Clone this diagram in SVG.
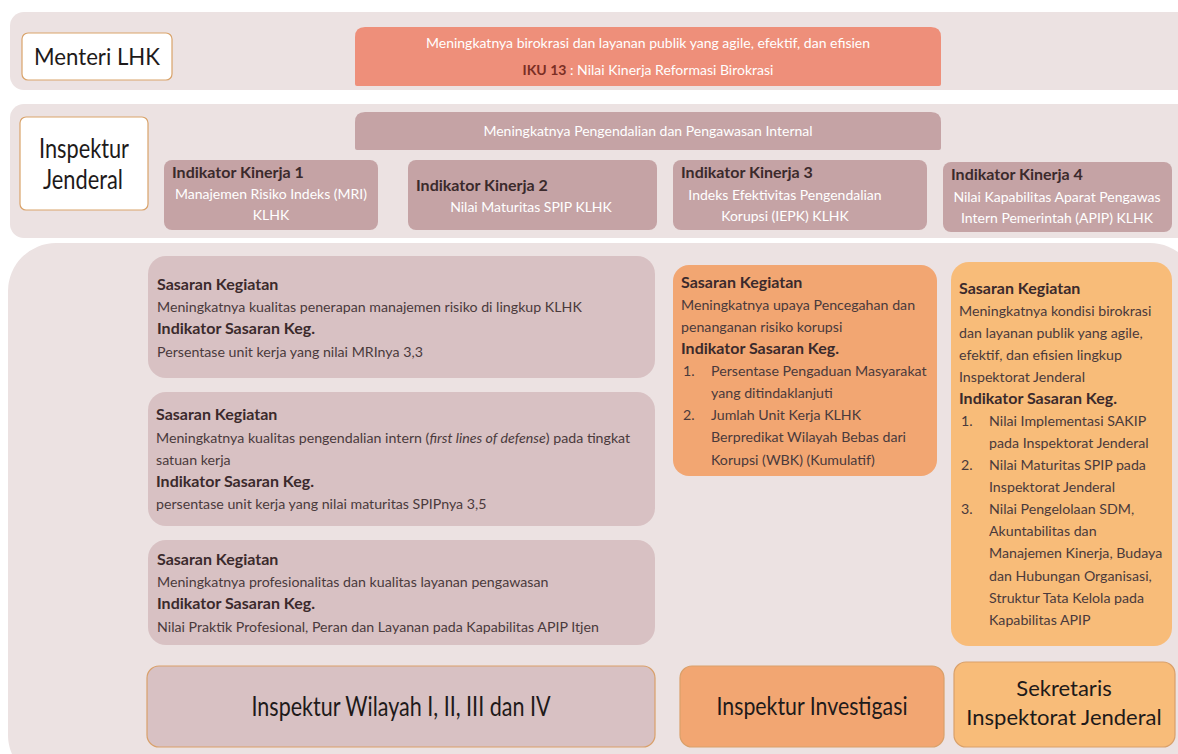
<svg xmlns="http://www.w3.org/2000/svg" width="1178" height="754" viewBox="0 0 1178 754">
<style>
text{font-family:Lato,"Open Sans","Liberation Sans",sans-serif}
.band{fill:#ECE2E2}
.wbox{fill:#FFFFFF;stroke:#D9A36A;stroke-width:1.2}
.mauve{fill:#C5A3A5}
.lmauve{fill:#D8C1C3}
.org{fill:#F2A672}
.lorg{fill:#F8BC79}
.stk{stroke:#D9A06A;stroke-width:1.2}
.wt{fill:#FFFFFF;font-size:14px}
.bt{fill:#3B2A2C;font-size:16px;font-weight:bold}
.dt{fill:#4A3A3C;font-size:14.2px}
.big{fill:#1E1A1A}
</style>
<g id="bands">
<rect class="band" x="10" y="12" width="1190" height="78" rx="14"/>
<rect class="band" x="10" y="104" width="1190" height="134" rx="14"/>
<rect class="band" x="8" y="243" width="1190" height="540" rx="48"/>
</g>
<g id="menteri">
<rect class="wbox" x="22" y="33" width="150" height="47" rx="6"/>
<text class="big" x="97" y="65" font-size="24" text-anchor="middle" textLength="126" lengthAdjust="spacingAndGlyphs">Menteri LHK</text>
</g>
<g id="iku">
<path d="M365,27 H931 Q941,27 941,37 V84 Q941,86 939,86 H357 Q355,86 355,84 V37 Q355,27 365,27 Z" fill="#EE8F7A"/>
<text class="wt" x="648" y="48" text-anchor="middle">Meningkatnya birokrasi dan layanan publik yang agile, efektif, dan efisien</text>
<text class="wt" x="648" y="75" text-anchor="middle"><tspan fill="#7A2E24" font-weight="bold">IKU 13</tspan> : Nilai Kinerja Reformasi Birokrasi</text>
</g>
<g id="irjen">
<rect class="wbox" x="20" y="117" width="128" height="93" rx="6"/>
<text class="big" x="84" y="158" font-size="27" text-anchor="middle" textLength="90" lengthAdjust="spacingAndGlyphs">Inspektur</text>
<text class="big" x="83" y="189" font-size="27" text-anchor="middle" textLength="80" lengthAdjust="spacingAndGlyphs">Jenderal</text>
</g>
<g id="sasaran-irjen">
<path d="M365,112 H931 Q941,112 941,122 V148 Q941,150 939,150 H357 Q355,150 355,148 V122 Q355,112 365,112 Z" class="mauve"/>
<text class="wt" x="648" y="136" text-anchor="middle">Meningkatnya Pengendalian dan Pengawasan Internal</text>
</g>
<g id="ik1">
<rect class="mauve" x="164" y="160" width="214" height="70" rx="8"/>
<text class="bt" x="172" y="178">Indikator Kinerja 1</text>
<text class="wt" x="271" y="199" text-anchor="middle">Manajemen Risiko Indeks (MRI)</text>
<text class="wt" x="271" y="220" text-anchor="middle">KLHK</text>
</g>
<g id="ik2">
<rect class="mauve" x="408" y="160" width="249" height="70" rx="8"/>
<text class="bt" x="416" y="191">Indikator Kinerja 2</text>
<text class="wt" x="531" y="212" text-anchor="middle">Nilai Maturitas SPIP KLHK</text>
</g>
<g id="ik3">
<rect class="mauve" x="673" y="160" width="254" height="70" rx="8"/>
<text class="bt" x="681" y="178">Indikator Kinerja 3</text>
<text class="wt" x="785" y="200" text-anchor="middle">Indeks Efektivitas Pengendalian</text>
<text class="wt" x="785" y="221" text-anchor="middle">Korupsi (IEPK) KLHK</text>
</g>
<g id="ik4">
<rect class="mauve" x="943" y="162" width="229" height="70" rx="8"/>
<text class="bt" x="951" y="180">Indikator Kinerja 4</text>
<text class="wt" x="1057" y="202" text-anchor="middle">Nilai Kapabilitas Aparat Pengawas</text>
<text class="wt" x="1057" y="223" text-anchor="middle">Intern Pemerintah (APIP) KLHK</text>
</g>
<g id="sk1">
<rect class="lmauve" x="148" y="256" width="507" height="122" rx="18"/>
<text class="bt" x="157" y="290">Sasaran Kegiatan</text>
<text class="dt" x="157" y="312">Meningkatnya kualitas penerapan manajemen risiko di lingkup KLHK</text>
<text class="bt" x="157" y="334">Indikator Sasaran Keg.</text>
<text class="dt" x="157" y="357">Persentase unit kerja yang nilai  MRInya 3,3</text>
</g>
<g id="sk2">
<rect class="lmauve" x="148" y="392" width="507" height="134" rx="18"/>
<text class="bt" x="156" y="420">Sasaran Kegiatan</text>
<text class="dt" x="156" y="443">Meningkatnya kualitas pengendalian intern (<tspan font-style="italic">first lines of defense</tspan>)  pada tingkat</text>
<text class="dt" x="156" y="465">satuan kerja</text>
<text class="bt" x="156" y="487">Indikator Sasaran Keg.</text>
<text class="dt" x="156" y="509">persentase unit kerja yang nilai maturitas SPIPnya 3,5</text>
</g>
<g id="sk3">
<rect class="lmauve" x="148" y="540" width="507" height="105" rx="18"/>
<text class="bt" x="157" y="565">Sasaran Kegiatan</text>
<text class="dt" x="157" y="587">Meningkatnya profesionalitas dan kualitas layanan pengawasan</text>
<text class="bt" x="157" y="609">Indikator Sasaran Keg.</text>
<text class="dt" x="157" y="632">Nilai Praktik Profesional, Peran dan Layanan  pada Kapabilitas APIP Itjen</text>
</g>
<g id="sk4">
<rect class="org" x="673" y="265" width="264" height="211" rx="16"/>
<text class="bt" x="681" y="288">Sasaran Kegiatan</text>
<text class="dt" x="681" y="310">Meningkatnya upaya Pencegahan dan</text>
<text class="dt" x="681" y="332">penanganan risiko korupsi</text>
<text class="bt" x="681" y="354">Indikator Sasaran Keg.</text>
<text class="dt" x="683" y="376">1.</text>
<text class="dt" x="711" y="376">Persentase Pengaduan Masyarakat</text>
<text class="dt" x="711" y="398">yang ditindaklanjuti</text>
<text class="dt" x="683" y="420">2.</text>
<text class="dt" x="711" y="420">Jumlah Unit Kerja KLHK</text>
<text class="dt" x="711" y="442">Berpredikat Wilayah Bebas dari</text>
<text class="dt" x="711" y="465">Korupsi (WBK) (Kumulatif)</text>
</g>
<g id="sk5">
<rect class="lorg" x="951" y="262" width="221" height="384" rx="18"/>
<text class="bt" x="959" y="294">Sasaran Kegiatan</text>
<text class="dt" x="959" y="316">Meningkatnya kondisi birokrasi</text>
<text class="dt" x="959" y="338">dan layanan publik yang agile,</text>
<text class="dt" x="959" y="360">efektif, dan efisien lingkup</text>
<text class="dt" x="959" y="382">Inspektorat Jenderal</text>
<text class="bt" x="959" y="404">Indikator Sasaran Keg.</text>
<text class="dt" x="961" y="426">1.</text>
<text class="dt" x="989" y="426">Nilai Implementasi SAKIP</text>
<text class="dt" x="989" y="448">pada Inspektorat Jenderal</text>
<text class="dt" x="961" y="470">2.</text>
<text class="dt" x="989" y="470">Nilai Maturitas SPIP pada</text>
<text class="dt" x="989" y="492">Inspektorat Jenderal</text>
<text class="dt" x="961" y="514">3.</text>
<text class="dt" x="989" y="514">Nilai Pengelolaan SDM,</text>
<text class="dt" x="989" y="536">Akuntabilitas dan</text>
<text class="dt" x="989" y="558">Manajemen Kinerja, Budaya</text>
<text class="dt" x="989" y="581">dan Hubungan Organisasi,</text>
<text class="dt" x="989" y="603">Struktur Tata Kelola pada</text>
<text class="dt" x="989" y="625">Kapabilitas APIP</text>
</g>
<g id="wilayah">
<rect class="lmauve stk" x="147" y="666" width="508" height="81" rx="12"/>
<text class="big" x="401" y="716" font-size="26" text-anchor="middle" textLength="299" lengthAdjust="spacingAndGlyphs">Inspektur Wilayah I, II, III dan IV</text>
</g>
<g id="investigasi">
<rect class="org stk" x="680" y="666" width="264" height="81" rx="12"/>
<text class="big" x="812" y="715" font-size="25" text-anchor="middle" textLength="191" lengthAdjust="spacingAndGlyphs">Inspektur Investigasi</text>
</g>
<g id="sekretaris">
<rect class="lorg stk" x="954" y="662" width="221" height="85" rx="12"/>
<text class="big" x="1064" y="696" font-size="22" text-anchor="middle">Sekretaris</text>
<text class="big" x="1064" y="725" font-size="22" text-anchor="middle">Inspektorat Jenderal</text>
</g>
<g id="connectors"></g>
</svg>
